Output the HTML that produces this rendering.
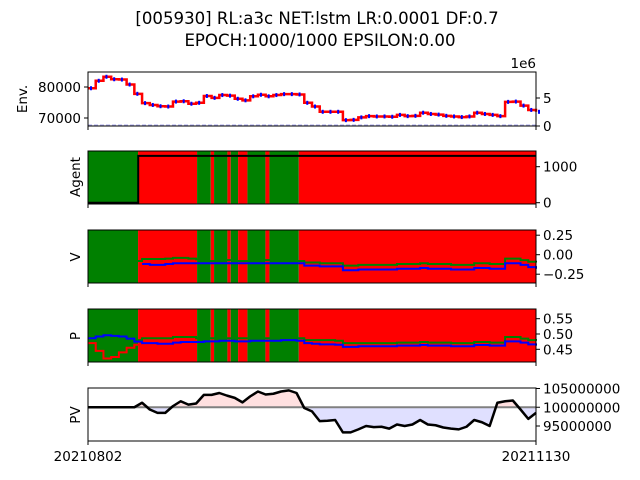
<!DOCTYPE html>
<html><head><meta charset="utf-8"><style>
body{margin:0;background:#fff}
svg{display:block;font-family:"DejaVu Sans","Liberation Sans",sans-serif}
</style></head><body>
<svg id="chart" width="640" height="480" viewBox="0 0 640 480" xmlns="http://www.w3.org/2000/svg">
<text x="317" y="24" font-size="16.6" text-anchor="middle">[005930] RL:a3c NET:lstm LR:0.0001 DF:0.7</text>
<text x="320" y="46" font-size="16.6" text-anchor="middle">EPOCH:1000/1000 EPSILON:0.00</text>
<g id="plots"></g>
</svg>
<script>
const days = Array.from({length:59},(_,i)=>i);
const xTickLabels = ["20210802","20211130"];
const price = [79600,82000,83300,82500,82400,80800,77800,74800,74200,73800,73700,75300,75400,74600,74900,77100,76500,77400,77200,76200,75700,77000,77500,77000,77400,77700,77700,77600,74900,73700,72000,72000,72000,69300,69400,70200,70600,70500,70500,70400,71000,70600,70700,71700,71300,71100,70700,70500,70300,70500,71700,71300,71000,70600,75200,75300,74000,72600,72000];
const envTicks = [70000,80000];
const volTicks = [0,5];
const actionSpans = [[0,6.48,"buy"],[6.48,14.12,"sell"],[14.12,15.89,"buy"],[15.89,16.32,"sell"],[16.32,18.05,"buy"],[18.05,18.48,"sell"],[18.48,19.43,"buy"],[19.43,20.64,"sell"],[20.64,22.97,"buy"],[22.97,23.49,"sell"],[23.49,27.29,"buy"],[27.29,58,"sell"]];
const holdings = [0,0,0,0,0,0,0,1300,1300,1300,1300,1300,1300,1300,1300,1300,1300,1300,1300,1300,1300,1300,1300,1300,1300,1300,1300,1300,1300,1300,1300,1300,1300,1300,1300,1300,1300,1300,1300,1300,1300,1300,1300,1300,1300,1300,1300,1300,1300,1300,1300,1300,1300,1300,1300,1300,1300,1300,1300];
const agentTicks = [0,1000];
const vBuy = [-0.07,-0.1,-0.2,-0.28,-0.25,-0.12,-0.08,-0.055,-0.055,-0.055,-0.05,-0.04,-0.04,-0.05,-0.06,-0.08,-0.08,-0.07,-0.07,-0.08,-0.08,-0.07,-0.07,-0.07,-0.07,-0.08,-0.08,-0.08,-0.1,-0.1,-0.11,-0.11,-0.11,-0.14,-0.14,-0.13,-0.13,-0.13,-0.13,-0.13,-0.12,-0.12,-0.12,-0.11,-0.12,-0.12,-0.12,-0.13,-0.13,-0.13,-0.11,-0.11,-0.12,-0.12,-0.05,-0.05,-0.07,-0.09,-0.1];
const vSell = [null,null,null,null,null,null,null,-0.12,-0.13,-0.13,-0.12,-0.11,-0.11,-0.11,-0.11,-0.11,-0.11,-0.11,-0.11,-0.11,-0.11,-0.11,-0.11,-0.11,-0.11,-0.11,-0.11,-0.11,-0.14,-0.14,-0.15,-0.15,-0.15,-0.2,-0.2,-0.19,-0.19,-0.19,-0.19,-0.19,-0.18,-0.18,-0.18,-0.17,-0.18,-0.18,-0.18,-0.19,-0.19,-0.19,-0.17,-0.17,-0.18,-0.18,-0.11,-0.11,-0.13,-0.16,-0.18];
const vTicks = [-0.25,0,0.25];
const pBuy = [0.486,0.49,0.495,0.495,0.492,0.49,0.48,0.486,0.486,0.486,0.486,0.49,0.49,0.49,0.486,0.486,0.486,0.486,0.486,0.486,0.486,0.486,0.486,0.486,0.486,0.486,0.486,0.486,0.48,0.48,0.48,0.48,0.478,0.47,0.47,0.47,0.47,0.47,0.47,0.47,0.472,0.472,0.472,0.474,0.472,0.472,0.472,0.47,0.47,0.47,0.474,0.474,0.472,0.472,0.49,0.49,0.485,0.48,0.478];
const pSell = [0.47,0.445,0.42,0.425,0.44,0.455,0.465,null,null,null,null,null,null,null,null,null,null,null,null,null,null,null,null,null,null,null,null,null,null,null,null,null,null,null,null,null,null,null,null,null,null,null,null,null,null,null,null,null,null,null,null,null,null,null,null,null,null,null,null];
const pHold = [0.486,0.492,0.496,0.494,0.492,0.485,0.475,0.47,0.47,0.468,0.468,0.472,0.474,0.474,0.474,0.476,0.476,0.478,0.478,0.476,0.476,0.478,0.478,0.478,0.478,0.48,0.48,0.478,0.47,0.468,0.466,0.466,0.465,0.458,0.458,0.46,0.46,0.46,0.46,0.46,0.462,0.462,0.462,0.464,0.462,0.462,0.462,0.46,0.46,0.46,0.464,0.464,0.462,0.462,0.476,0.476,0.472,0.466,0.462];
const pTicks = [0.45,0.5,0.55];
const pv = [100e6,100e6,100e6,100e6,100e6,100e6,100e6,101.2e6,99.4e6,98.5e6,98.5e6,100.3e6,101.6e6,100.7e6,101.0e6,103.3e6,103.3e6,103.8e6,103.1e6,102.5e6,101.3e6,102.9e6,104.2e6,103.4e6,103.6e6,104.2e6,104.5e6,103.8e6,99.8e6,98.9e6,96.3e6,96.4e6,96.6e6,93.3e6,93.3e6,94.1e6,95.0e6,94.7e6,94.8e6,94.3e6,95.4e6,95.0e6,95.4e6,96.6e6,95.4e6,95.2e6,94.6e6,94.3e6,94.1e6,94.8e6,96.6e6,96.0e6,95.0e6,101.2e6,101.6e6,101.8e6,99.4e6,96.9e6,98.5e6];
const pvTicks = [95000000,100000000,105000000];
const pvBase = 100000000;

const NS="http://www.w3.org/2000/svg";
const root=document.getElementById('plots');
const X0=88,X1=536;
const xs=d=>X0+(d-days[0])/(days[days.length-1]-days[0])*(X1-X0);
function mk(tag,attrs,parent){const e=document.createElementNS(NS,tag);for(const k in attrs)e.setAttribute(k,attrs[k]);(parent||root).appendChild(e);return e;}
function lin(d0,d1,r0,r1){return v=>r0+(v-d0)/(d1-d0)*(r1-r0);}
function stepPath(vals,ys){let d="",open=false;for(let i=0;i<vals.length;i++){if(vals[i]==null){open=false;continue;}const x=xs(days[i]),y=ys(vals[i]);if(!open){d+="M"+x+","+y;open=true;}else d+="V"+y;const xn=i<vals.length-1?xs(days[i+1]):x;d+="H"+xn;}return d;}
function linePath(vals,ys){let d="";vals.forEach((v,i)=>{d+=(i?"L":"M")+xs(days[i])+","+ys(v);});return d;}
function frame(top,bot,name){const g=mk('rect',{x:X0,y:top,width:X1-X0,height:bot-top,fill:'none',stroke:'#000','stroke-width':1});mk('line',{x1:X0,y1:bot,x2:X0,y2:bot+4,stroke:'#000'});mk('line',{x1:X1,y1:bot,x2:X1,y2:bot+4,stroke:'#000'});}
function yTicks(vals,ys,side,fmt,name){vals.forEach(v=>{const y=ys(v);const x=side==='r'?X1:X0;mk('line',{x1:x,y1:y,x2:side==='r'?x+4:x-4,y2:y,stroke:'#000'});const t=mk('text',{x:side==='r'?x+7:x-7,y:y+5,'font-size':13.5,'text-anchor':side==='r'?'start':'end'});t.textContent=fmt(v);});}
function ylabel(txt,x,y,name){const t=mk('text',{x:x,y:y,'font-size':13.5,'text-anchor':'middle',transform:`rotate(-90 ${x} ${y})`});t.textContent=txt;}
function spans(top,bot,name){actionSpans.forEach(s=>{const r=mk('rect',{x:xs(s[0]),y:top,width:xs(s[1])-xs(s[0]),height:bot-top,fill:s[2]==='buy'?'#008000':'#ff0000'});});}
const minus=v=>String(v).replace('-','\u2212');

// Panel 1: Env
{const T=72,B=126;const ys=lin(70000,80000,118,87);const vs=lin(0,5,126,98);
const vl=mk('line',{x1:X0,y1:125,x2:X1,y2:125,stroke:'#aaaaee','stroke-dasharray':'4,2','stroke-width':1});
const p=mk('path',{d:stepPath(price,ys),fill:'none',stroke:'#ff0000','stroke-width':2.5});
price.forEach((v,i)=>{const c=mk('rect',{x:xs(days[i])+2,y:ys(v)-2,width:2,height:4,fill:'#0000ff'});});
frame(T,B,'env');yTicks(envTicks,ys,'l',v=>v,'env');yTicks(volTicks,vs,'r',v=>v,'volume');
const e=mk('text',{x:536,y:68,'font-size':13.5,'text-anchor':'end'});e.textContent='1e6';
ylabel('Env.',27,99,'env-y-axis-title');}
// Panel 2: Agent
{const T=151,B=204;const ys=lin(0,1000,202.7,166.7);spans(T,B,'agent');
let d="";holdings.forEach((v,i)=>{const x=xs(days[i]),y=ys(v);if(i===0)d+="M"+x+","+y;else{const xm=(xs(days[i-1])+x)/2;d+="H"+xm+"V"+y+"H"+x;}});
const p=mk('path',{d:d,fill:'none',stroke:'#000','stroke-width':2});
frame(T,B,'agent');yTicks(agentTicks,ys,'r',v=>v,'agent');ylabel('Agent',80,177,'agent-y-axis-title');}
// Panel 3: V
{const T=230,B=283;const ys=lin(0,0.25,254.7,235.2);spans(T,B,'value');
let p=mk('path',{d:stepPath(vBuy,ys),fill:'none',stroke:'#008000','stroke-width':2});
p=mk('path',{d:stepPath(vSell,ys),fill:'none',stroke:'#0000ff','stroke-width':2});
frame(T,B,'value');yTicks(vTicks,ys,'r',v=>minus(v.toFixed(2)),'value');ylabel('V',80,257,'value-y-axis-title');}
// Panel 4: P
{const T=309,B=362;const ys=lin(0.45,0.55,349.3,318.7);spans(T,B,'policy');
let p=mk('path',{d:stepPath(pBuy,ys),fill:'none',stroke:'#008000','stroke-width':2});
p=mk('path',{d:stepPath(pSell,ys),fill:'none',stroke:'#ff0000','stroke-width':2});
p=mk('path',{d:stepPath(pHold,ys),fill:'none',stroke:'#0000ff','stroke-width':2});
frame(T,B,'policy');yTicks(pTicks,ys,'r',v=>v.toFixed(2),'policy');ylabel('P',80,336,'policy-y-axis-title');}
// Panel 5: PV
{const T=388,B=441;const ys=lin(95e6,105e6,426,388.5);const yb=ys(pvBase);
let fp="M"+xs(days[0])+","+yb;pv.forEach((v,i)=>{fp+="L"+xs(days[i])+","+ys(v);});fp+="L"+xs(days[days.length-1])+","+yb+"Z";
const cpA=mk('clipPath',{id:'above'});mk('rect',{x:X0,y:T,width:X1-X0,height:yb-T},cpA);
const cpB=mk('clipPath',{id:'below'});mk('rect',{x:X0,y:yb,width:X1-X0,height:B-yb},cpB);
let f=mk('path',{d:fp,fill:'#ffe0e0','clip-path':'url(#above)'});
f=mk('path',{d:fp,fill:'#e0e0ff','clip-path':'url(#below)'});
const bl=mk('line',{x1:X0,y1:yb,x2:X1,y2:yb,stroke:'#808080','stroke-width':2});
const p=mk('path',{d:linePath(pv,ys),fill:'none',stroke:'#000','stroke-width':2.5,'stroke-linejoin':'round'});
frame(T,B,'pv');yTicks(pvTicks,ys,'r',v=>v,'pv');ylabel('PV',80,415,'pv-y-axis-title');
[[0,xTickLabels[0]],[58,xTickLabels[1]]].forEach(([d,l])=>{const t=mk('text',{x:xs(d),y:461,'font-size':13.5,'text-anchor':'middle'});t.textContent=l;});}
</script>
</body></html>
